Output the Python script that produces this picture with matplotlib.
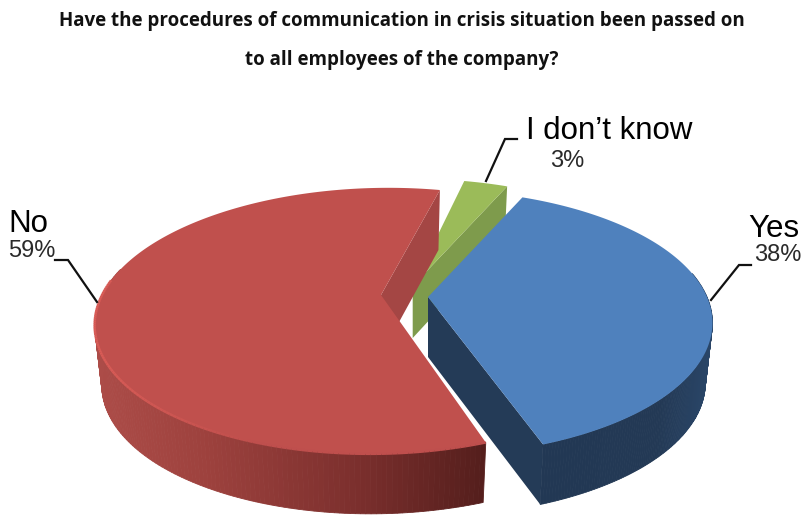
import numpy as np
import matplotlib
matplotlib.use("Agg")
import matplotlib.pyplot as plt
from matplotlib.patches import Polygon
from matplotlib.collections import LineCollection

title_lines = ["Have the procedures of communication in crisis situation been passed on",
               "to all employees of the company?"]
names = ["Yes", "No", "I don't know"]
values = [38, 59, 3]

# Pie projection
START_ANGLE = 66.5      # first slice begins here and runs clockwise
RX = 279.0
RY = 128.0
PERSP = 5.15
DEPTH = 60.0
BOTTOM_SCALE = 0.975

# apex of each exploded slice, in pixels
centers = {"Yes": (428, 297), "No": (381, 295), "I don't know": (412.7, 286)}
skews = {"Yes": 0.0, "No": -0.07, "I don't know": 0.0}
depths = {"Yes": DEPTH, "No": DEPTH, "I don't know": 52.0}
top_colors = {"Yes": "#4F81BD", "No": "#C0504D", "I don't know": "#9BBB59"}
face_colors = {"Yes": "#243B57", "No": "#A44644", "I don't know": "#7E9B4C"}


def project(name, t_deg):
    cx, cy = centers[name]
    t = np.radians(t_deg)
    p = PERSP / (PERSP + np.sin(t))
    dy = -RY * np.sin(t) * p
    return cx + RX * np.cos(t) * p + skews[name] * dy, cy + dy


def lower(name, x, y):
    # same point on the underside of the slice
    cx = centers[name][0]
    return cx + (x - cx) * BOTTOM_SCALE, y + depths[name]


def rim_color(name, x):
    if name == "No":
        stops_x = [95, 200, 350, 485]
        stops_r = [172, 158, 125, 84]
        stops_g = [76, 66, 48, 30]
        stops_b = [72, 62, 46, 28]
    else:
        stops_x = [540, 660, 713]
        stops_r = [34, 35, 42]
        stops_g = [56, 57, 70]
        stops_b = [84, 85, 104]
    return (np.interp(x, stops_x, stops_r) / 255,
            np.interp(x, stops_x, stops_g) / 255,
            np.interp(x, stops_x, stops_b) / 255)


fig = plt.figure(figsize=(8.04, 5.16), dpi=100)
ax = fig.add_axes([0, 0, 1, 1])
ax.set_xlim(0, 804)
ax.set_ylim(516, 0)
ax.axis("off")

# slice angle ranges, clockwise from the start angle
angles = {}
a = START_ANGLE
for name, val in zip(names, values):
    angles[name] = (a, a - val / sum(values) * 360)
    a = angles[name][1]

# back to front so the blue slice overlaps the green one
for name in ["I don't know", "No", "Yes"]:
    cx, cy = centers[name]
    ts = np.linspace(angles[name][0], angles[name][1], 240)
    xs, ys = project(name, ts)

    # radial side wall at the clockwise end, the one facing the viewer
    bx, by = lower(name, xs[-1], ys[-1])
    ax.add_patch(Polygon([(cx, cy), (xs[-1], ys[-1]), (bx, by), (cx, cy + depths[name])],
                         closed=True, fc=face_colors[name], ec="none"))

    # outer rim, split into thin strips to shade it left to right
    if name != "I don't know":
        for i in range(len(ts) - 1):
            if np.sin(np.radians(ts[i])) > 0.2:
                continue
            bx0, by0 = lower(name, xs[i], ys[i])
            bx1, by1 = lower(name, xs[i + 1], ys[i + 1])
            c = rim_color(name, (xs[i] + xs[i + 1]) / 2)
            ax.add_patch(Polygon([(xs[i], ys[i]), (xs[i + 1], ys[i + 1]), (bx1, by1), (bx0, by0)],
                                 closed=True, fc=c, ec=c, lw=0.6))

    # top of the slice
    ax.add_patch(Polygon([(cx, cy)] + list(zip(xs, ys)), closed=True,
                         fc=top_colors[name], ec="none"))

    # light bevel along the front edge of the red top
    if name == "No":
        keep = np.sin(np.radians(ts)) < 0.12
        px, py = xs[keep], ys[keep]
        segs = [[(px[i], py[i]), (px[i + 1], py[i + 1])] for i in range(len(px) - 1)]
        fade = np.clip((px[:-1] - 95) / 160, 0, 1)
        cols = [(0.85 - 0.10 * f, 0.36 - 0.05 * f, 0.34 - 0.04 * f) for f in fade]
        ax.add_collection(LineCollection(segs, colors=cols, linewidths=1.8))

# leader lines
leaders = [([711, 739, 751], [300, 265, 265]),
           ([97, 68, 55], [302, 260, 260]),
           ([486, 505, 517], [181, 139, 139])]
for lx, ly in leaders:
    ax.plot(lx, ly, color="#111111", lw=1.6, solid_joinstyle="miter", zorder=3)

# titles and labels
for text, y in zip(title_lines, [21, 60]):
    ax.text(402, y, text, ha="center", va="center", fontsize=13.5,
            fontweight="bold", family="Open Sans", color="#111111")

name_font = dict(family="Liberation Sans", fontsize=22.5, color="#000000", va="center")
pct_font = dict(family="Liberation Sans", fontsize=17, color="#2a2a2a", va="center")
ax.text(774, 229, names[0], ha="center", **name_font)
ax.text(778, 255, f"{values[0]}%", ha="center", **pct_font)
ax.text(8, 224, names[1], ha="left", **name_font)
ax.text(8, 251, f"{values[1]}%", ha="left", **pct_font)
ax.text(609, 131, names[2].replace("'", "\u2019"), ha="center", **name_font)
ax.text(567, 161, f"{values[2]}%", ha="center", **pct_font)

fig.savefig("out.png", dpi=100)
